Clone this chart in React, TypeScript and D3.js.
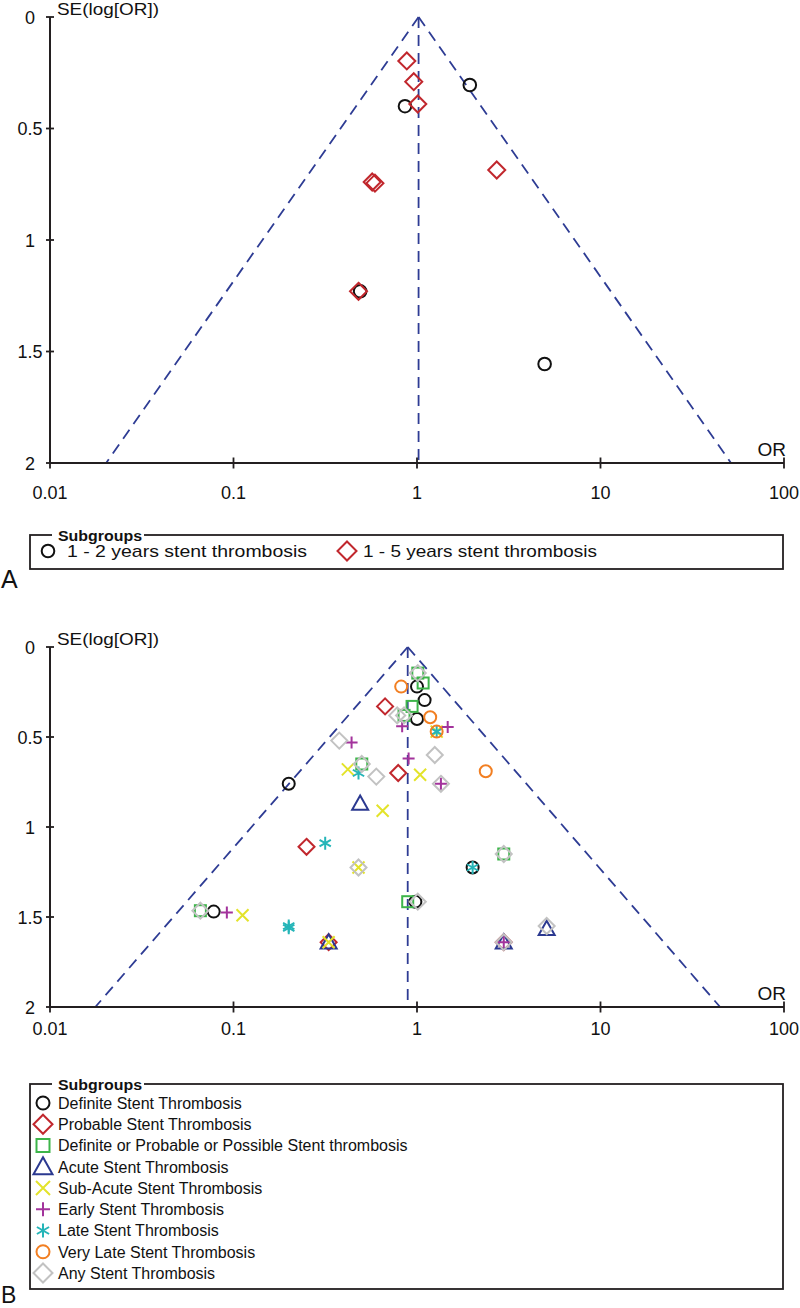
import React from 'react';
import * as d3 from 'd3';

// ---------- axis ticks ----------
const xTicks = [0.01, 0.1, 1, 10, 100];
const xTickLabels = ['0.01', '0.1', '1', '10', '100'];
const yTicks = [0, 0.5, 1, 1.5, 2];
const yTickLabels = ['0', '0.5', '1', '1.5', '2'];

// ---------- pooled estimates (funnel apex) ----------
const pooledA = 1.02;
const pooledB = 0.89;

// ---------- Panel A data: [OR, SE(log OR)] ----------
const aTwoYears: [number, number][] = [[1.94, 0.305], [0.86, 0.4], [0.49, 1.23], [4.96, 1.556]];
const aFiveYears: [number, number][] = [[0.88, 0.197], [0.96, 0.29], [1.01, 0.39], [2.72, 0.686], [0.57, 0.74], [0.59, 0.745], [0.48, 1.23]];
const aLabels = ['1 - 2 years stent thrombosis', '1 - 5 years stent thrombosis'];

// ---------- Panel B data: [OR, SE(log OR)] ----------
const bDefinite: [number, number][] = [[1.0, 0.22], [1.1, 0.295], [1.0, 0.4], [0.2, 0.76], [0.078, 1.47], [2.01, 1.225], [0.98, 1.415]];
const bProbable: [number, number][] = [[0.67, 0.33], [0.79, 0.7], [0.25, 1.11], [0.33, 1.64], [2.97, 1.64]];
const bDefProbPoss: [number, number][] = [[1.08, 0.2], [0.94, 0.33], [1.01, 0.145], [0.85, 0.38], [0.5, 0.65], [0.066, 1.465], [2.97, 1.15], [0.89, 1.415]];
const bAcute: [number, number][] = [[0.49, 0.87], [0.33, 1.64], [2.97, 1.64], [5.09, 1.565]];
const bSubAcute: [number, number][] = [[0.42, 0.68], [0.65, 0.91], [1.04, 0.71], [1.28, 0.47], [0.112, 1.49], [0.48, 1.225], [0.33, 1.64]];
const bEarly: [number, number][] = [[0.44, 0.53], [0.83, 0.44], [1.47, 0.445], [0.9, 0.62], [1.35, 0.76], [0.092, 1.475], [2.97, 1.64]];
const bLate: [number, number][] = [[0.48, 0.7], [1.28, 0.47], [0.316, 1.09], [2.01, 1.225], [0.2, 1.55], [0.2, 1.56]];
const bVeryLate: [number, number][] = [[0.82, 0.22], [1.18, 0.39], [1.28, 0.47], [2.37, 0.69]];
const bAny: [number, number][] = [[1.01, 0.145], [0.78, 0.38], [0.85, 0.38], [0.377, 0.52], [0.5, 0.65], [0.6, 0.72], [1.25, 0.6], [1.35, 0.76], [0.48, 1.225], [0.066, 1.465], [2.97, 1.15], [1.01, 1.415], [5.09, 1.55], [2.97, 1.64]];
const bLabels = [
  'Definite Stent Thrombosis',
  'Probable Stent Thrombosis',
  'Definite or Probable or Possible Stent thrombosis',
  'Acute Stent Thrombosis',
  'Sub-Acute Stent Thrombosis',
  'Early Stent Thrombosis',
  'Late Stent Thrombosis',
  'Very Late Stent Thrombosis',
  'Any Stent Thrombosis',
];
const bShapes = ['circle', 'diamond', 'square', 'triangle', 'x', 'plus', 'asterisk', 'circle', 'diamond'];
const bColors = ['#111111', '#c1272d', '#3db54a', '#2b3990', '#e3e32a', '#a3339c', '#25b5b8', '#f27f22', '#c2c2c2'];
const bSeries = [bDefinite, bProbable, bDefProbPoss, bAcute, bSubAcute, bEarly, bLate, bVeryLate, bAny];

const FONT = '"Liberation Sans", Arial, Helvetica, sans-serif';
const AXIS = '#231f20';
const FUNNEL = '#2e3c94';

function Marker({ shape, x, y, s, color, sw = 2 }: { shape: string; x: number; y: number; s: number; color: string; sw?: number }) {
  const common = { fill: 'none', stroke: color, strokeWidth: sw };
  switch (shape) {
    case 'circle':
      return <circle cx={x} cy={y} r={s} {...common} />;
    case 'diamond':
      return <path d={`M${x},${y - s}L${x + s},${y}L${x},${y + s}L${x - s},${y}Z`} {...common} />;
    case 'square':
      return <rect x={x - s} y={y - s} width={2 * s} height={2 * s} {...common} />;
    case 'triangle':
      return <path d={`M${x},${y - s}L${x + s},${y + s * 0.78}L${x - s},${y + s * 0.78}Z`} {...common} />;
    case 'x':
      return <path d={`M${x - s},${y - s}L${x + s},${y + s}M${x - s},${y + s}L${x + s},${y - s}`} {...common} />;
    case 'plus':
      return <path d={`M${x - s},${y}L${x + s},${y}M${x},${y - s}L${x},${y + s}`} {...common} />;
    case 'asterisk': {
      const c = s * 0.87, h = s * 0.5;
      return <path d={`M${x},${y - s}L${x},${y + s}M${x - c},${y - h}L${x + c},${y + h}M${x - c},${y + h}L${x + c},${y - h}`} {...common} />;
    }
    default:
      return null;
  }
}

function Panel({ top, bottom, pooled, labelDy, children }: { top: number; bottom: number; pooled: number; labelDy: number; children: (x: any, y: any) => React.ReactNode }) {
  const x = d3.scaleLog().domain([0.01, 100]).range([50, 784]);
  const y = d3.scaleLinear().domain([0, 2]).range([top, bottom]);
  const z = 1.96 * 2;
  const lo = pooled * Math.exp(-z);
  const hi = pooled * Math.exp(z);
  return (
    <g>
      {/* funnel */}
      <line x1={x(pooled)} y1={y(0)} x2={x(lo)} y2={y(2)} stroke={FUNNEL} strokeWidth={1.8} strokeDasharray="11,7" />
      <line x1={x(pooled)} y1={y(0)} x2={x(hi)} y2={y(2)} stroke={FUNNEL} strokeWidth={1.8} strokeDasharray="11,7" />
      <line x1={x(pooled)} y1={y(0)} x2={x(pooled)} y2={y(2)} stroke={FUNNEL} strokeWidth={1.8} strokeDasharray="11,7" />
      {/* axes */}
      <line x1={50} y1={y(0)} x2={50} y2={y(2)} stroke={AXIS} strokeWidth={2} />
      <line x1={50} y1={y(2)} x2={784} y2={y(2)} stroke={AXIS} strokeWidth={2} />
      {yTicks.map((t, i) => (
        <g key={'y' + i}>
          <line x1={46} x2={54} y1={y(t)} y2={y(t)} stroke={AXIS} strokeWidth={1.8} />
          <text x={30} y={y(t) + 6.5} textAnchor="middle" fontSize={18} fontFamily={FONT} fill="#111">{yTickLabels[i]}</text>
        </g>
      ))}
      {xTicks.map((t, i) => (
        <g key={'x' + i}>
          <line x1={x(t)} x2={x(t)} y1={y(2) - 5.5} y2={y(2) + 5.5} stroke={AXIS} strokeWidth={1.8} />
          <text x={x(t)} y={y(2) + labelDy} textAnchor="middle" fontSize={18} fontFamily={FONT} fill="#111">{xTickLabels[i]}</text>
        </g>
      ))}
      <text x={57} y={y(0) - 2} fontSize={17} fontFamily={FONT} fill="#111" textLength={102} lengthAdjust="spacingAndGlyphs">SE(log[OR])</text>
      <text x={786} y={y(2) - 7} textAnchor="end" fontSize={19} fontFamily={FONT} fill="#111">OR</text>
      {children(x, y)}
    </g>
  );
}

export default function App() {
  return (
    <svg width={800} height={1308} style={{ position: 'absolute', left: 0, top: 0, background: '#fff' }}>
      <rect x={0} y={0} width={800} height={1308} fill="#fff" />
      {/* Panel A */}
      <Panel top={17} bottom={463} pooled={pooledA} labelDy={36}>
        {(x, y) => (
          <g>
            {aTwoYears.map((d, i) => <Marker key={'a1' + i} shape="circle" x={x(d[0])} y={y(d[1])} s={6.3} color="#111" />)}
            {aFiveYears.map((d, i) => <Marker key={'a2' + i} shape="diamond" x={x(d[0])} y={y(d[1])} s={8.5} color="#c1272d" />)}
          </g>
        )}
      </Panel>
      {/* Legend A */}
      <rect x={30} y={535} width={753} height={34} fill="none" stroke={AXIS} strokeWidth={1.8} />
      <rect x={52} y={528} width={92} height={14} fill="#fff" />
      <text x={58} y={541} fontSize={14} fontWeight="bold" fontFamily={FONT} fill="#111" textLength={84} lengthAdjust="spacingAndGlyphs">Subgroups</text>
      <Marker shape="circle" x={48} y={551} s={6.3} color="#111" />
      <text x={67} y={557} fontSize={17} fontFamily={FONT} fill="#111" textLength={240} lengthAdjust="spacingAndGlyphs">{aLabels[0]}</text>
      <Marker shape="diamond" x={347} y={551} s={9.5} color="#c1272d" />
      <text x={363} y={557} fontSize={17} fontFamily={FONT} fill="#111" textLength={234} lengthAdjust="spacingAndGlyphs">{aLabels[1]}</text>
      <text x={1} y={588} fontSize={25} fontFamily={FONT} fill="#111">A</text>

      {/* Panel B */}
      <Panel top={647} bottom={1007} pooled={pooledB} labelDy={28}>
        {(x, y) => (
          <g>
            {bSeries.map((ser, si) =>
              ser.map((d, i) => (
                <Marker key={'b' + si + '-' + i} shape={bShapes[si]} x={x(d[0])} y={y(d[1])}
                  s={bShapes[si] === 'diamond' ? 8 : bShapes[si] === 'square' ? 5.5 : bShapes[si] === 'triangle' ? 8 : bShapes[si] === 'asterisk' ? 6.5 : 6}
                  color={bColors[si]} />
              ))
            )}
          </g>
        )}
      </Panel>
      {/* Legend B */}
      <rect x={30} y={1084} width={753} height={205} fill="none" stroke={AXIS} strokeWidth={1.8} />
      <rect x={52} y={1077} width={92} height={14} fill="#fff" />
      <text x={58} y={1090} fontSize={14} fontWeight="bold" fontFamily={FONT} fill="#111" textLength={84} lengthAdjust="spacingAndGlyphs">Subgroups</text>
      {bLabels.map((lab, i) => {
        const cy = 1103 + i * 21.25;
        const shape = bShapes[i];
        const s = shape === 'diamond' ? 9.5 : shape === 'triangle' ? 9.5 : shape === 'square' ? 6.5 : shape === 'circle' ? 6.5 : 7;
        return (
          <g key={'lb' + i}>
            <Marker shape={shape} x={43} y={cy} s={s} color={bColors[i]} />
            <text x={58} y={cy + 5.8} fontSize={16} fontFamily={FONT} fill="#111">{lab}</text>
          </g>
        );
      })}
      <text x={1} y={1303} fontSize={23} fontFamily={FONT} fill="#111">B</text>
    </svg>
  );
}
